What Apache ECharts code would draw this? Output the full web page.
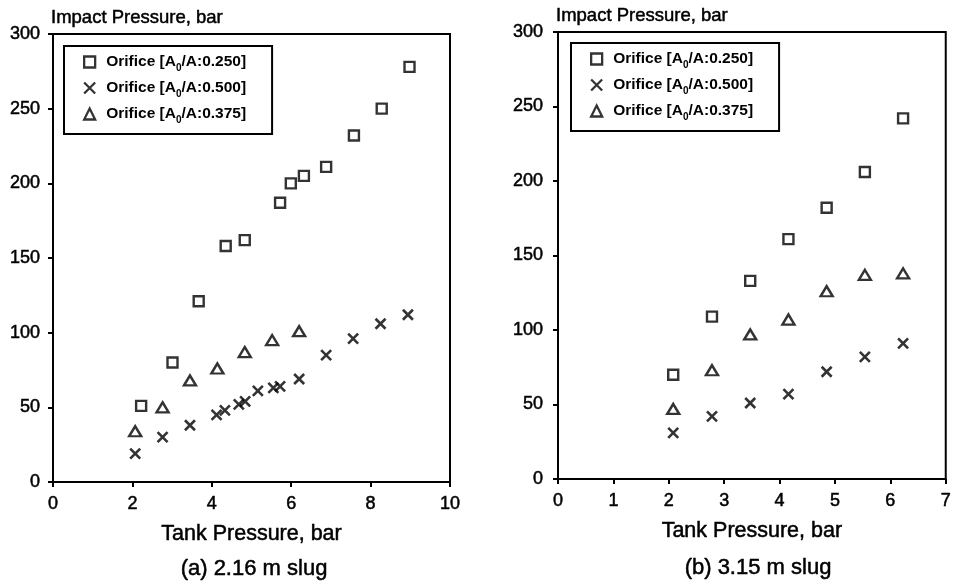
<!DOCTYPE html>
<html>
<head>
<meta charset="utf-8">
<script src="https://cdn.jsdelivr.net/npm/echarts@6/dist/echarts.min.js"></script>
<style>
html,body{margin:0;padding:0;background:#fff;}
#c{width:954px;height:581px;}
</style>
</head>
<body>
<div id="c"></div>
<script>
// ---- Data: (a) 2.16 m slug ----
const aSqX  = [2.22, 3.01, 3.67, 4.35, 4.83, 5.72, 5.99, 6.32, 6.88, 7.58, 8.28, 8.98];
const aSqY  = [51, 80, 121, 158, 162, 187, 200, 205, 211, 232, 250, 278];
const aCrX  = [2.07, 2.76, 3.45, 4.12, 4.33, 4.68, 4.84, 5.16, 5.55, 5.72, 6.20, 6.88, 7.56, 8.25, 8.94];
const aCrY  = [19, 30, 38, 45, 48, 52, 54, 61, 63, 64, 69, 85, 96, 106, 112];
const aTrX  = [2.07, 2.76, 3.45, 4.14, 4.83, 5.52, 6.20];
const aTrY  = [34, 50, 68, 76, 87, 95, 101];
// ---- Data: (b) 3.15 m slug ----
const bX    = [2.08, 2.78, 3.47, 4.16, 4.85, 5.54, 6.23];
const bSqY  = [70, 109, 133, 161, 182, 206, 242];
const bCrY  = [31, 42, 51, 57, 72, 82, 91];
const bTrY  = [47, 73, 97, 107, 126, 137, 138];

const names = ['Orifice [A0/A:0.250]', 'Orifice [A0/A:0.500]', 'Orifice [A0/A:0.375]'];
const subtitles = ['(a) 2.16 m slug', '(b) 3.15 m slug'];
const yName = 'Impact Pressure, bar';
const xName = 'Tank Pressure, bar';

const FONT = 'Liberation Sans, Arial, Helvetica, sans-serif';
const zip = (xs, ys) => xs.map((x, i) => [x, ys[i]]);
const CROSS = 'path://M0,0L10,10M0,10L10,0';
const heavy = {textBorderColor:'#000', textBorderWidth:0.5};

function sq(name, data, gi) {
  return {type:'scatter', name, xAxisIndex:gi, yAxisIndex:gi, data, symbol:'rect', symbolSize:10,
    itemStyle:{color:'#fff', borderColor:'#000', borderWidth:2.4}, emphasis:{disabled:true}};
}
function cr(name, data, gi) {
  return {type:'scatter', name, xAxisIndex:gi, yAxisIndex:gi, data, symbol:CROSS, symbolSize:10,
    itemStyle:{color:'transparent', borderColor:'#000', borderWidth:2.6}, emphasis:{disabled:true}};
}
function tr(name, data, gi) {
  return {type:'scatter', name, xAxisIndex:gi, yAxisIndex:gi, data, symbol:'triangle', symbolSize:[12,10],
    itemStyle:{color:'#fff', borderColor:'#000', borderWidth:2.4}, emphasis:{disabled:true}};
}

function xAxis(gi, max, interval) {
  return {type:'value', gridIndex:gi, min:0, max, interval,
    name:xName, nameLocation:'middle', nameGap:52,
    nameTextStyle:Object.assign({fontFamily:FONT, fontSize:21.5, color:'#000', verticalAlign:'middle'}, heavy),
    axisLine:{lineStyle:{color:'#000', width:2}},
    axisTick:{show:true, inside:false, length:5, lineStyle:{color:'#000', width:2}},
    axisLabel:Object.assign({fontFamily:FONT, fontSize:18, color:'#000', margin:13}, heavy),
    splitLine:{show:false}};
}
function yAxis(gi, margin) {
  return {type:'value', gridIndex:gi, min:0, max:300, interval:50,
    name:yName, nameLocation:'end', nameGap:16,
    nameTextStyle:Object.assign({fontFamily:FONT, fontSize:18.5, color:'#000', align:'left', verticalAlign:'middle', padding:[0,0,0,-2]}, heavy),
    axisLine:{lineStyle:{color:'#000', width:2}},
    axisTick:{show:true, inside:false, length:5, lineStyle:{color:'#000', width:2}},
    axisLabel:Object.assign({fontFamily:FONT, fontSize:18, color:'#000', margin}, heavy),
    splitLine:{show:false}};
}
function legend(left, top) {
  return {orient:'vertical', left, top, data:names,
    itemWidth:11, itemHeight:11, itemGap:6,
    padding:[7, 26, 9, 19],
    borderColor:'#000', borderWidth:2, backgroundColor:'#fff',
    selectedMode:false,
    itemStyle:{borderWidth:2.3, borderColor:'#000'},
    formatter: n => n.replace('A0', 'A{sub|0}'),
    textStyle:{fontFamily:FONT, fontSize:15.5, fontWeight:'bold', color:'#000', lineHeight:18, padding:[0,0,0,6],
      rich:{sub:{fontFamily:FONT, fontSize:10, fontWeight:'bold', color:'#000', verticalAlign:'bottom', lineHeight:12, padding:[0,0,-2,0]}}}};
}

const chart = echarts.init(document.getElementById('c'), null, {renderer:'canvas'});
chart.setOption({
  backgroundColor:'#fff',
  animation:false,
  title:[
    {text:subtitles[0], left:249, top:553, textAlign:'center', textStyle:Object.assign({fontFamily:FONT, fontSize:22, fontWeight:'normal', color:'#000'}, heavy)},
    {text:subtitles[1], left:753, top:552, textAlign:'center', textStyle:Object.assign({fontFamily:FONT, fontSize:22, fontWeight:'normal', color:'#000'}, heavy)}
  ],
  grid:[
    {left:53, top:34, right:504, bottom:99, show:true, borderColor:'#000', borderWidth:2, backgroundColor:'transparent'},
    {left:558, top:32, right:2, bottom:102, show:true, borderColor:'#000', borderWidth:2, backgroundColor:'transparent'}
  ],
  xAxis:[xAxis(0, 10, 2), xAxis(1, 7, 1)],
  yAxis:[yAxis(0, 13), yAxis(1, 15)],
  legend:[legend(64, 46), legend(571, 43)],
  series:[
    sq(names[0], zip(aSqX, aSqY), 0),
    cr(names[1], zip(aCrX, aCrY), 0),
    tr(names[2], zip(aTrX, aTrY), 0),
    sq(names[0], zip(bX, bSqY), 1),
    cr(names[1], zip(bX, bCrY), 1),
    tr(names[2], zip(bX, bTrY), 1)
  ]
});
</script>
</body>
</html>
